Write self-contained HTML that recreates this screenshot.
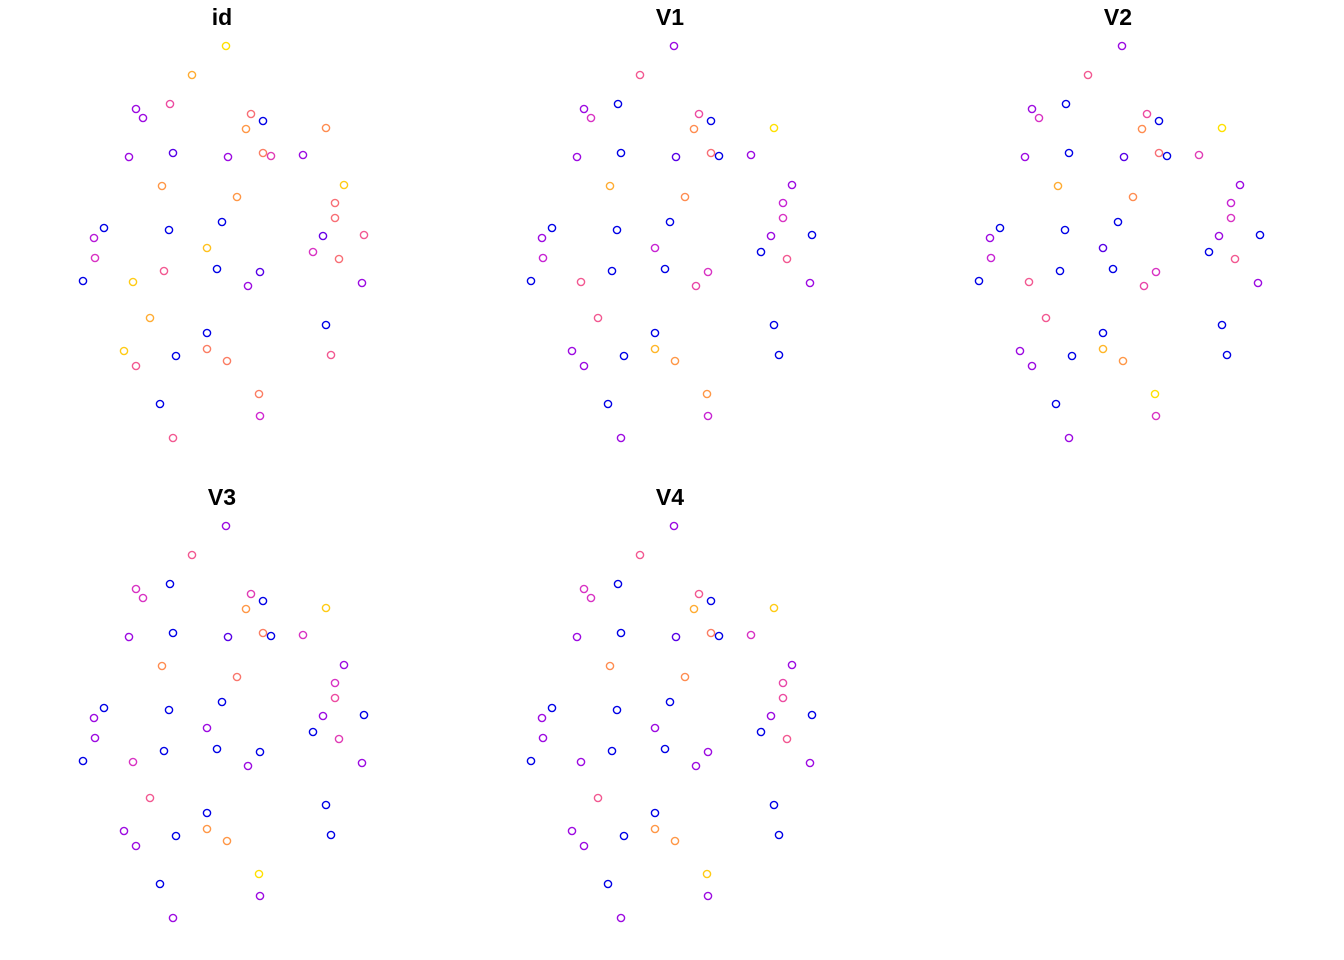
<!DOCTYPE html>
<html><head><meta charset="utf-8"><style>
html,body{margin:0;padding:0;background:#fff;}
svg{display:block;}
text{font-family:"Liberation Sans",sans-serif;font-weight:bold;font-size:23px;}
</style></head><body>
<svg id="chart" width="1344" height="960"></svg>
<script>
// point coordinates (map units)
const px=[226,192,136,143,170,251,263,246,326,129,173,228,263,271,303,162,237,344,335,335,104,94,169,222,364,323,95,207,313,339,83,133,164,217,260,248,362,150,207,326,124,176,207,227,136,331,259,160,260,173];
const py=[46,75,109,118,104,114,121,129,128,157,153,157,153,156,155,186,197,185,203,218,228,238,230,222,235,236,258,248,252,259,281,282,271,269,272,286,283,318,333,325,351,356,349,361,366,355,394,404,416,438];
const panelNames=["id","V1","V2","V3","V4"];
const valId=[4,3.5,1,1,2.3,2.8,0,3.3,3.2,1,0.5,1,3,2,1,3.3,3.3,3.8,2.8,2.8,0,1.3,0,0,2.5,0.6,1.8,3.7,1.8,2.8,0,3.8,2.5,0,0.5,1,1,3.5,0,0,3.8,0,3,3,2.5,2.5,3,0,1.6,2.5];
const valV1=[1,2.5,1,1.8,0,2.3,0,3.2,4,1,0,0.5,2.8,0,1,3.5,3.2,1,1.5,1.8,0,1,0,0,0,1,1.5,1.5,0,2.5,0,2.5,0,0,1.8,2.2,1,2.5,0,0,1,0,3.6,3.3,1,0,3.3,0,1.5,1];
const valV2=[1,2.5,1,1.8,0,2.3,0,3.2,4,1,0,0.5,2.8,0,2,3.5,3.2,1,1.5,1.8,0,1,0,0,0,1,1.5,0.5,0,2.5,0,2.5,0,0,1.8,2.2,1,2.5,0,0,1,0,3.6,3.3,1,0,4,0,1.8,1];
const valV3=[1,2.5,1.8,1.8,0,2,0,3.3,3.8,1,0,0.5,3,0,1.8,3.2,2.9,1,1.8,2.3,0,1,0,0,0,1,1,1,0,2,0,1.8,0,0,0,1,1,2.5,0,0,1,0,3.3,3.3,1,0,4,0,1,1];
const valV4=[1,2.5,1.8,1.8,0,2.5,0,3.5,3.8,1,0,0.5,3,0,1.8,3.2,3.2,1,2.2,2.3,0,1,0,0,0,1,1,1,0,2.5,0,1,0,0,1,1,1,2.5,0,0,1,0,3.3,3.3,1,0,3.8,0,1,1];
const vals=[valId,valV1,valV2,valV3,valV4];
const offX=[0,448,896,0,448], offY=[0,0,0,480,480], titleX=[222,670,1118,222,670];
const stops=[[0,0,230],[138,0,230],[208,40,208],[240,80,154],[255,140,80],[255,224,0]];
function col(v){const t=v/4*5;const i=Math.min(4,Math.floor(t));const f=t-i;const a=stops[i],b=stops[i+1];
return "rgb("+a.map((c,k)=>Math.round(c+(b[k]-c)*f)).join(",")+")";}
function sx(x,p){return x+offX[p];}
function sy(y,p){return y+offY[p];}
const svg=document.getElementById("chart");const NS="http://www.w3.org/2000/svg";
for(let p=0;p<5;p++){
  const g=document.createElementNS(NS,"g");
  
  
  const t=document.createElementNS(NS,"text");
  
  
  t.setAttribute("x",titleX[p]);t.setAttribute("y",offY[p]+25);t.setAttribute("text-anchor","middle");
  t.textContent=panelNames[p];g.appendChild(t);
  for(let i=0;i<px.length;i++){
    const c=document.createElementNS(NS,"circle");
    
    
    c.setAttribute("cx",sx(px[i],p));c.setAttribute("cy",sy(py[i],p));c.setAttribute("r",3.6);
    c.setAttribute("fill","none");c.setAttribute("stroke",col(vals[p][i]));c.setAttribute("stroke-width",1.4);
    g.appendChild(c);
  }
  svg.appendChild(g);
}
</script>
</body></html>
